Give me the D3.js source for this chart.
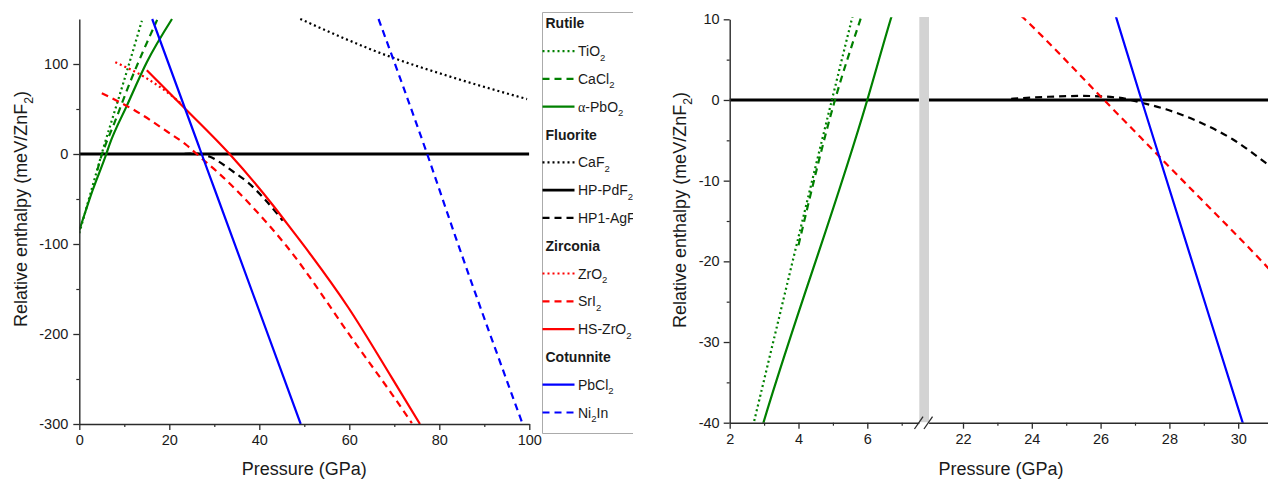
<!DOCTYPE html>
<html>
<head>
<meta charset="utf-8">
<script src="https://cdn.jsdelivr.net/npm/d3@7"></script>
<style>
  body { margin: 0; background: #fff; }
  svg { display: block; }
  text { font-family: "Liberation Sans", Arial, Helvetica, sans-serif; fill: #1a1a1a; }
</style>
</head>
<body>
<svg id="chart" width="1268" height="479"></svg>
<script>
// Relative enthalpy (meV per ZnF2) versus pressure (GPa) for candidate ZnF2 phases.
// Each series: [pressure, relative enthalpy] pairs.
const tio2     = [[0, -88], [2.7, -40], [4.97, 0], [5.55, 10], [6.9, 32], [9.85, 80], [13.9, 148]];
const cacl2    = [[4.0, -18], [5.06, 0], [5.8, 10], [7.6, 32], [11.3, 80], [17.3, 149]];
const apbo2    = [[0, -85], [2.98, -40], [6.0, 0], [6.68, 10], [10.6, 54], [15.0, 102], [20.6, 150]];
const caf2     = [[49.1, 150], [69.1, 108], [82.4, 86], [99.5, 61]];
const hppdf2   = [[0, 0], [100, 0]];
const hp1agf2  = [[23.4, 0.15], [24.5, 0.4], [25.5, 0.5], [26.5, 0.3], [27.15, -0.3], [27.9, -1.15],
                  [28.9, -2.8], [29.85, -4.9], [30.8, -7.8], [34.3, -20], [37.3, -31], [43.9, -66], [45.2, -74]];
const zro2     = [[8.0, 102], [15.0, 84], [21.7, 60], [23.5, 52]];
const sri2     = [[5.0, 67.5], [12.8, 47], [19.5, 25], [23.8, 10], [26.1, 0], [28.0, -8.3], [30.8, -20.5],
                  [38.7, -60], [46.0, -102], [61.6, -212], [69.5, -267], [73.9, -299]];
const hszro2   = [[15.0, 93], [23.2, 52], [33.4, 0], [43.2, -58], [47.5, -86], [51.0, -109],
                  [59.7, -170], [69.5, -249], [75.7, -300]];
const pbcl2    = [[16.2, 150], [26.47, 10], [27.19, 0], [30.13, -40], [49.2, -300]];
const ni2in    = [[66.5, 150], [77.3, 0], [83.6, -92], [98.3, -297]];

// Legend groups (structure types) and axis ticks
const groups = ["Rutile", "Fluorite", "Zirconia", "Cotunnite"];
const leftXTicks = [0, 20, 40, 60, 80, 100];
const leftXMinor = [10, 30, 50, 70, 90];
const leftYTicks = [-300, -200, -100, 0, 100];
const leftYMinor = [-250, -150, -50, 50];
const rightXTicksA = [2, 4, 6];
const rightXMinorA = [3, 5, 7];
const rightXTicksB = [22, 24, 26, 28, 30];
const rightXMinorB = [23, 25, 27, 29, 31];
const rightYTicks = [-40, -30, -20, -10, 0, 10];
const rightYMinor = [-35, -25, -15, -5, 5];

const GREEN = "#008000", RED = "#ff0000", BLUE = "#0000ff", BLACK = "#000000";
const DOT = "2,3", DASH = "7,5";

const series = [
  { label: "TiO_2",      group: "Rutile",    data: tio2,    color: GREEN, dash: DOT },
  { label: "CaCl_2",     group: "Rutile",    data: cacl2,   color: GREEN, dash: DASH },
  { label: "α-PbO_2",    group: "Rutile",    data: apbo2,   color: GREEN, dash: null },
  { label: "CaF_2",      group: "Fluorite",  data: caf2,    color: BLACK, dash: DOT },
  { label: "HP-PdF_2",   group: "Fluorite",  data: hppdf2,  color: BLACK, dash: null, width: 2.8 },
  { label: "HP1-AgF_2",  group: "Fluorite",  data: hp1agf2, color: BLACK, dash: DASH },
  { label: "ZrO_2",      group: "Zirconia",  data: zro2,    color: RED,   dash: DOT },
  { label: "SrI_2",      group: "Zirconia",  data: sri2,    color: RED,   dash: DASH },
  { label: "HS-ZrO_2",   group: "Zirconia",  data: hszro2,  color: RED,   dash: null },
  { label: "PbCl_2",     group: "Cotunnite", data: pbcl2,   color: BLUE,  dash: null },
  { label: "Ni_2In",     group: "Cotunnite", data: ni2in,   color: BLUE,  dash: DASH }
];
// the reference phase is drawn first so the others sit on top of it
const drawOrder = [4, 0, 1, 2, 3, 5, 6, 7, 8, 9, 10];

const svg = d3.select("#chart");
const defs = svg.append("defs");
const AXIS = "#2b2b2b";
const FONT = '"Liberation Sans", Arial, Helvetica, sans-serif';

function clip(id, x0, y0, x1, y1) {
  defs.append("clipPath").attr("id", id)
    .append("rect").attr("x", x0).attr("y", y0).attr("width", x1 - x0).attr("height", y1 - y0);
  return "url(#" + id + ")";
}

// Text with "_n" subscripts and a serif alpha
function richText(sel, label, size) {
  const parts = label.split(/(_\d)/).filter(p => p.length);
  let lowered = false;
  parts.forEach(p => {
    if (p[0] === "_") {
      sel.append("tspan").attr("font-size", size * 0.68).attr("dy", size * 0.32).text(p.slice(1));
      lowered = true;
    } else {
      const chunks = p.split(/(α)/).filter(c => c.length);
      chunks.forEach(c => {
        const t = sel.append("tspan").text(c);
        if (lowered) { t.attr("dy", -size * 0.32); lowered = false; }
        if (c === "α") t.attr("font-family", '"Liberation Serif", "DejaVu Serif", serif');
      });
    }
  });
}

function styleAxis(g, fontSize) {
  g.attr("font-family", FONT).attr("font-size", fontSize);
  g.select(".domain").attr("stroke", AXIS).attr("stroke-width", 1.4);
  g.selectAll(".tick line").attr("stroke", AXIS).attr("stroke-width", 1.3);
  g.selectAll(".tick text").attr("fill", "#1f1f1f");
}
function minorAxis(g) {
  g.select(".domain").remove();
  g.selectAll(".tick line").attr("stroke", AXIS).attr("stroke-width", 1.2);
}

function drawSeries(layer, x, y, clipUrl) {
  const gen = d3.line().x(d => x(d[0])).y(d => y(d[1])).curve(d3.curveMonotoneX);
  const g = layer.append("g").attr("clip-path", clipUrl);
  drawOrder.forEach(i => {
    const s = series[i];
    g.append("path")
      .attr("d", gen(s.data))
      .attr("fill", "none")
      .attr("stroke", s.color)
      .attr("stroke-width", s.width || 2.2)
      .attr("stroke-dasharray", s.dash)
      .attr("stroke-linejoin", "round");
  });
}

/* ---------------- Left panel: full pressure range ---------------- */
const L = { x0: 79.3, x1: 529.3, y0: 19, y1: 424 };
const xL = d3.scaleLinear().domain([0, 100]).range([L.x0, L.x1]);
const yL = d3.scaleLinear().domain([-300, 150]).range([L.y1, L.y0]);

const left = svg.append("g");
drawSeries(left, xL, yL, clip("clipL", L.x0, L.y0 - 2, L.x1, L.y1));

left.append("g").attr("transform", `translate(0,${L.y1})`)
  .call(d3.axisBottom(xL).tickValues(leftXMinor).tickSize(3).tickFormat("")).call(minorAxis);
left.append("g").attr("transform", `translate(${L.x0},0)`)
  .call(d3.axisLeft(yL).tickValues(leftYMinor).tickSize(3).tickFormat("")).call(minorAxis);
left.append("g").attr("transform", `translate(0,${L.y1})`)
  .call(d3.axisBottom(xL).tickValues(leftXTicks).tickSize(6).tickPadding(5).tickSizeOuter(0).tickFormat(d => String(d)))
  .call(g => styleAxis(g, 14.5));
left.append("g").attr("transform", `translate(${L.x0},0)`)
  .call(d3.axisLeft(yL).tickValues(leftYTicks).tickSize(6).tickPadding(5).tickSizeOuter(0).tickFormat(d => String(d)))
  .call(g => styleAxis(g, 14.5));

left.append("text").attr("x", (L.x0 + L.x1) / 2).attr("y", 475)
  .attr("text-anchor", "middle").attr("font-size", 18).text("Pressure (GPa)");
richText(left.append("text").attr("transform", "translate(27,209) rotate(-90)")
  .attr("text-anchor", "middle").attr("font-size", 18), "Relative enthalpy (meV/ZnF_2)", 18);

/* ---------------- Legend ---------------- */
const LG = { x: 542.5, y: 12.5, right: 633, bottom: 433.5, row: 27.8, first: 23.3 };
const legend = svg.append("g").attr("clip-path", clip("clipLegend", 540, 0, LG.right, 479));
legend.append("path")
  .attr("d", `M${LG.right},${LG.y}H${LG.x}V${LG.bottom}H${LG.right}`)
  .attr("fill", "none").attr("stroke", "#ababab").attr("stroke-width", 1);

let row = 0;
groups.forEach(gname => {
  const yy = LG.first + row * LG.row;
  legend.append("text").attr("x", LG.x + 3).attr("y", yy + 5)
    .attr("font-size", 14).attr("font-weight", "bold").text(gname);
  row++;
  series.filter(s => s.group === gname).forEach(s => {
    const y2 = LG.first + row * LG.row;
    legend.append("line").attr("x1", LG.x).attr("x2", LG.x + 32).attr("y1", y2).attr("y2", y2)
      .attr("stroke", s.color).attr("stroke-width", s.width ? 2.6 : 2.2).attr("stroke-dasharray", s.dash);
    richText(legend.append("text").attr("x", LG.x + 35.5).attr("y", y2 + 5).attr("font-size", 14), s.label, 14);
    row++;
  });
});

/* ---------------- Right panel: low-pressure close-up with axis break ---------------- */
const R = { x0: 729.7, y0: 19.3, y1: 422.7, breakA: 918.9, breakB: 928.6, x1: 1272.6 };
const yR = d3.scaleLinear().domain([-40, 10]).range([R.y1, R.y0]);
const xRa = d3.scaleLinear().domain([2, 7.5]).range([R.x0, R.breakA]);
const xRb = d3.scaleLinear().domain([21, 31]).range([R.breakB, R.x1]);

const right = svg.append("g");
drawSeries(right, xRa, yR, clip("clipRa", R.x0, R.y0 - 2, R.breakA, R.y1));
drawSeries(right, xRb, yR, clip("clipRb", R.breakB, R.y0 - 2, R.x1, R.y1));

// break band
right.append("rect").attr("x", R.breakA + 0.4).attr("y", 17)
  .attr("width", R.breakB - R.breakA).attr("height", R.y1 - 17 - 0.5).attr("fill", "#d3d3d3");

right.append("g").attr("transform", `translate(0,${R.y1})`)
  .call(d3.axisBottom(xRa).tickValues(rightXMinorA).tickSize(3).tickFormat("")).call(minorAxis);
right.append("g").attr("transform", `translate(0,${R.y1})`)
  .call(d3.axisBottom(xRb).tickValues(rightXMinorB).tickSize(3).tickFormat("")).call(minorAxis);
right.append("g").attr("transform", `translate(${R.x0},0)`)
  .call(d3.axisLeft(yR).tickValues(rightYMinor).tickSize(3).tickFormat("")).call(minorAxis);
right.append("g").attr("transform", `translate(0,${R.y1})`)
  .call(d3.axisBottom(xRa).tickValues(rightXTicksA).tickSize(6).tickPadding(5).tickSizeOuter(0).tickFormat(d => String(d)))
  .call(g => styleAxis(g, 14.5));
right.append("g").attr("transform", `translate(0,${R.y1})`)
  .call(d3.axisBottom(xRb).tickValues(rightXTicksB).tickSize(6).tickPadding(5).tickSizeOuter(0).tickFormat(d => String(d)))
  .call(g => styleAxis(g, 14.5));
right.append("g").attr("transform", `translate(${R.x0},0)`)
  .call(d3.axisLeft(yR).tickValues(rightYTicks).tickSize(6).tickPadding(4).tickSizeOuter(0).tickFormat(d => String(d)))
  .call(g => styleAxis(g, 14.5));

// break marks on the pressure axis
const xb = (R.breakA + R.breakB) / 2;
[-5, 4.5].forEach(off => {
  right.append("line")
    .attr("x1", xb + off - 4.3).attr("y1", R.y1 + 6.3)
    .attr("x2", xb + off + 4.3).attr("y2", R.y1 - 6)
    .attr("stroke", AXIS).attr("stroke-width", 1.3);
});

right.append("text").attr("x", 1001).attr("y", 475)
  .attr("text-anchor", "middle").attr("font-size", 18).text("Pressure (GPa)");
richText(right.append("text").attr("transform", "translate(686,210) rotate(-90)")
  .attr("text-anchor", "middle").attr("font-size", 18), "Relative enthalpy (meV/ZnF_2)", 18);
</script>
</body>
</html>
